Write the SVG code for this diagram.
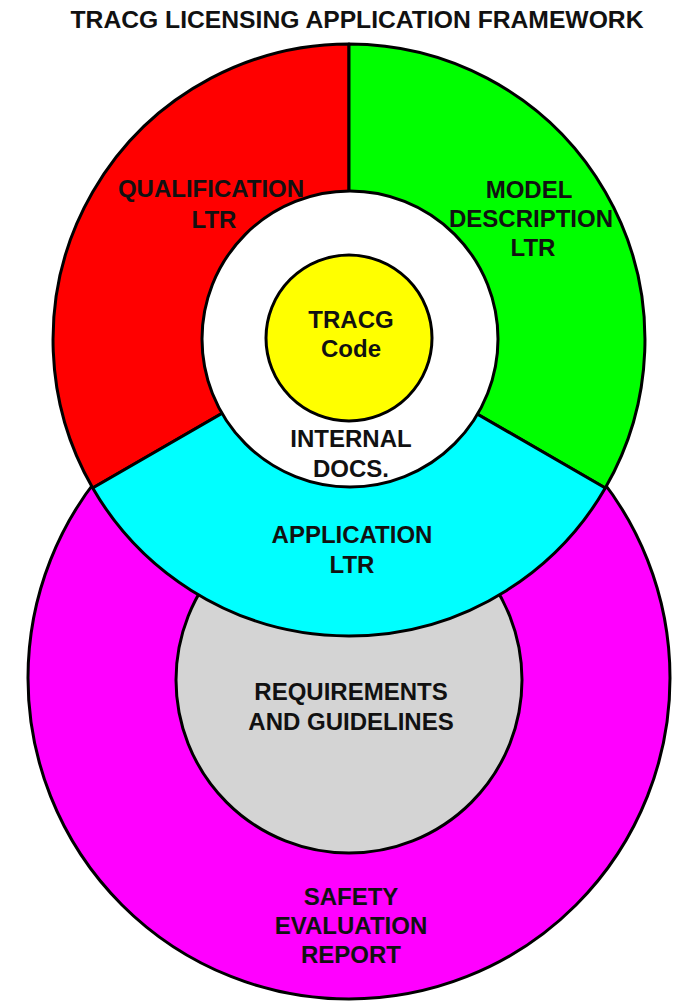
<svg xmlns="http://www.w3.org/2000/svg" width="677" height="1003" viewBox="0 0 677 1003">
  <style>
    .shape { stroke: #000; stroke-width: 3; stroke-linejoin: round; }
    .lbl { font-family: "Liberation Sans", Arial, sans-serif; font-weight: bold; font-size: 24px; fill: #111; text-anchor: middle; }
  </style>
  <rect x="0" y="0" width="677" height="1003" fill="#fff"/>

  <text id="title" class="lbl" x="357" y="28" textLength="573" lengthAdjust="spacingAndGlyphs">TRACG LICENSING APPLICATION FRAMEWORK</text>

  <!-- outer lower ring: safety evaluation report -->
  <g id="ser">
    <circle class="shape" cx="349" cy="678" r="321" fill="#ff00ff"/>
    <text class="lbl" x="351" y="905">SAFETY</text>
    <text class="lbl" x="351" y="934">EVALUATION</text>
    <text class="lbl" x="351" y="963">REPORT</text>
  </g>

  <!-- requirements disc -->
  <g id="requirements">
    <circle class="shape" cx="349" cy="680" r="173" fill="#d4d4d4"/>
    <text class="lbl" x="351" y="700">REQUIREMENTS</text>
    <text class="lbl" x="351" y="730">AND GUIDELINES</text>
  </g>

  <!-- upper circle split into three 120-degree sectors -->
  <g id="qualification">
    <path class="shape" d="M349,340 L349,44 A296,296 0 0 0 92.7,488 Z" fill="#ff0000"/>
    <text class="lbl" x="211" y="197">QUALIFICATION</text>
    <text class="lbl" x="214" y="228">LTR</text>
  </g>
  <g id="model">
    <path class="shape" d="M349,340 L349,44 A296,296 0 0 1 605.3,488 Z" fill="#00ff00"/>
    <text class="lbl" x="529" y="198">MODEL</text>
    <text class="lbl" x="531" y="227">DESCRIPTION</text>
    <text class="lbl" x="533" y="256">LTR</text>
  </g>
  <g id="application">
    <path class="shape" d="M349,340 L92.7,488 A296,296 0 0 0 605.3,488 Z" fill="#00ffff"/>
    <text class="lbl" x="352" y="543">APPLICATION</text>
    <text class="lbl" x="352" y="573">LTR</text>
  </g>

  <g id="internal">
    <circle class="shape" cx="350" cy="339" r="148" fill="#fff"/>
    <text class="lbl" x="351" y="447">INTERNAL</text>
    <text class="lbl" x="351" y="477">DOCS.</text>
  </g>

  <g id="code">
    <circle class="shape" cx="349" cy="338" r="83" fill="#ffff00"/>
    <text class="lbl" x="351" y="328">TRACG</text>
    <text class="lbl" x="351" y="357">Code</text>
  </g>
</svg>
